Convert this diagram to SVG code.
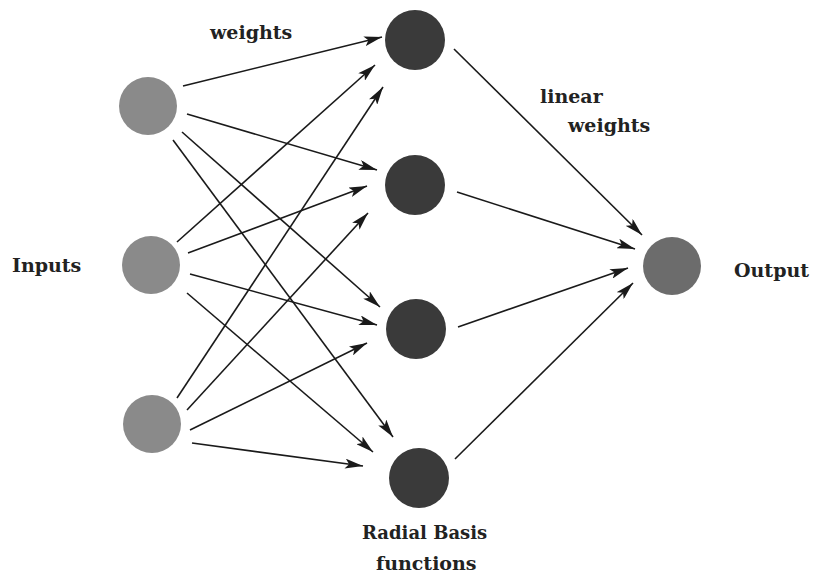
<svg xmlns="http://www.w3.org/2000/svg" width="815" height="573" viewBox="0 0 815 573">
<style>
.in{fill:#8a8a8a}
.hid{fill:#3a3a3a}
.out{fill:#6c6c6c}
.lbl{font-family:"DejaVu Serif","Liberation Serif",serif;font-size:19px;font-weight:bold;fill:#222}
.e{stroke:#1a1a1a;stroke-width:1.6;fill:none;marker-end:url(#ah)}
</style>
<defs>
<marker id="ah" markerUnits="userSpaceOnUse" markerWidth="18" markerHeight="10" viewBox="0 0 18 10" refX="18" refY="5" orient="auto">
<path d="M0,0 L18,5 L0,10 L4,5 Z" fill="#1a1a1a"/>
</marker>
</defs>
<rect width="815" height="573" fill="#fff"/>
<g id="connectors">
<line class="e" x1="183" y1="86" x2="382" y2="37"/>
<line class="e" x1="187" y1="114" x2="377" y2="170"/>
<line class="e" x1="182" y1="132" x2="380" y2="307"/>
<line class="e" x1="173" y1="140" x2="393" y2="437"/>
<line class="e" x1="177" y1="242" x2="375" y2="65"/>
<line class="e" x1="188" y1="253" x2="367" y2="186"/>
<line class="e" x1="190" y1="274" x2="377" y2="325"/>
<line class="e" x1="187" y1="293" x2="373" y2="452"/>
<line class="e" x1="177" y1="398" x2="383" y2="87"/>
<line class="e" x1="187" y1="410" x2="368" y2="213"/>
<line class="e" x1="190" y1="430" x2="367" y2="343"/>
<line class="e" x1="192" y1="443" x2="363" y2="466"/>
<line class="e" x1="454" y1="49" x2="642" y2="235"/>
<line class="e" x1="457" y1="192" x2="635" y2="249"/>
<line class="e" x1="458" y1="327" x2="628" y2="268"/>
<line class="e" x1="455" y1="459" x2="633" y2="283"/>
</g>
<g id="input1"><circle class="in" cx="148" cy="106" r="29"/></g>
<g id="input2"><circle class="in" cx="151" cy="265" r="29"/></g>
<g id="input3"><circle class="in" cx="152" cy="424" r="29"/></g>
<g id="rbf1"><circle class="hid" cx="415" cy="40" r="30"/></g>
<g id="rbf2"><circle class="hid" cx="415" cy="185" r="30"/></g>
<g id="rbf3"><circle class="hid" cx="416" cy="329" r="30"/></g>
<g id="rbf4"><circle class="hid" cx="419" cy="478" r="30"/></g>
<g id="output"><circle class="out" cx="672" cy="266" r="29"/></g>
<g id="labels">
<text class="lbl" x="210" y="39">weights</text>
<text class="lbl" x="540" y="103">linear</text>
<text class="lbl" x="568" y="132">weights</text>
<text class="lbl" x="734" y="277">Output</text>
<text class="lbl" x="12" y="272">Inputs</text>
<text class="lbl" x="362" y="539" style="font-size:18px">Radial Basis</text>
<text class="lbl" x="376" y="570">functions</text>
</g>
</svg>
